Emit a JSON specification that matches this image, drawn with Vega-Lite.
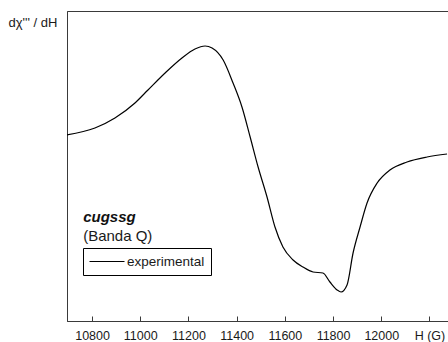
{
  "$schema": "https://vega.github.io/schema/vega-lite/v6.json",
  "width": 388,
  "height": 310,
  "autosize": {"type": "none"},
  "padding": {"left": 67, "top": 11, "right": 0, "bottom": 21},
  "config": {
    "view": {"stroke": "#3a3a3a", "strokeWidth": 1},
    "font": "Liberation Sans",
    "axis": {"grid": false}
  },
  "data": {
    "values": [
      {"H": 10692, "s": 185, "series": "experimental"},
      {"H": 10812, "s": 192, "series": "experimental"},
      {"H": 10895, "s": 202, "series": "experimental"},
      {"H": 10978, "s": 217, "series": "experimental"},
      {"H": 11032, "s": 230, "series": "experimental"},
      {"H": 11103, "s": 247, "series": "experimental"},
      {"H": 11173, "s": 262, "series": "experimental"},
      {"H": 11227, "s": 271, "series": "experimental"},
      {"H": 11269, "s": 274, "series": "experimental"},
      {"H": 11298, "s": 272, "series": "experimental"},
      {"H": 11344, "s": 260, "series": "experimental"},
      {"H": 11385, "s": 237, "series": "experimental"},
      {"H": 11422, "s": 213, "series": "experimental"},
      {"H": 11456, "s": 183, "series": "experimental"},
      {"H": 11489, "s": 153, "series": "experimental"},
      {"H": 11526, "s": 123, "series": "experimental"},
      {"H": 11559, "s": 93, "series": "experimental"},
      {"H": 11592, "s": 73, "series": "experimental"},
      {"H": 11634, "s": 60, "series": "experimental"},
      {"H": 11675, "s": 53, "series": "experimental"},
      {"H": 11717, "s": 48, "series": "experimental"},
      {"H": 11758, "s": 47, "series": "experimental"},
      {"H": 11787, "s": 38, "series": "experimental"},
      {"H": 11817, "s": 30, "series": "experimental"},
      {"H": 11833, "s": 28, "series": "experimental"},
      {"H": 11858, "s": 35, "series": "experimental"},
      {"H": 11883, "s": 67, "series": "experimental"},
      {"H": 11912, "s": 93, "series": "experimental"},
      {"H": 11941, "s": 117, "series": "experimental"},
      {"H": 11983, "s": 137, "series": "experimental"},
      {"H": 12036, "s": 150, "series": "experimental"},
      {"H": 12107, "s": 158, "series": "experimental"},
      {"H": 12190, "s": 163, "series": "experimental"},
      {"H": 12273, "s": 166, "series": "experimental"}
    ]
  },
  "layer": [
    {
      "mark": {"type": "line", "interpolate": "monotone", "strokeWidth": 1.2, "clip": true},
      "encoding": {
        "x": {
          "field": "H", "type": "quantitative",
          "scale": {"domain": [10696, 12306], "nice": false, "zero": false},
          "axis": {
            "title": null,
            "values": [10800, 11000, 11200, 11400, 11600, 11800, 12000, 12200],
            "labelExpr": "datum.value == 12200 ? 'H (G)' : datum.value",
            "tickSize": -5,
            "tickColor": "#3a3a3a",
            "domainColor": "#3a3a3a",
            "labelPadding": 13,
            "labelFontSize": 12.5,
            "labelColor": "#1a1a1a",
            "labelFlush": false
          }
        },
        "y": {
          "field": "s", "type": "quantitative",
          "scale": {"domain": [-1, 309], "nice": false, "zero": false},
          "axis": {
            "title": "dχ''' / dH",
            "titleAngle": 0,
            "titleAlign": "left",
            "titleBaseline": "middle",
            "titleX": -59,
            "titleY": 11,
            "titleFontSize": 13,
            "titleFontWeight": "normal",
            "titleColor": "#1a1a1a",
            "labels": false,
            "ticks": false,
            "domainColor": "#3a3a3a"
          }
        },
        "color": {
          "field": "series", "type": "nominal",
          "scale": {"range": ["#000000"]},
          "legend": {
            "title": null,
            "orient": "none",
            "legendX": 16,
            "legendY": 237,
            "symbolType": "stroke",
            "symbolSize": 1225,
            "symbolStrokeWidth": 1,
            "clipHeight": 15,
            "labelFontSize": 13.5,
            "labelColor": "#1a1a1a",
            "labelOffset": 2,
            "strokeColor": "#000000",
            "fillColor": "#ffffff",
            "padding": 6,
            "cornerRadius": 0
          }
        }
      }
    },
    {
      "data": {"values": [{"label": "cugssg"}]},
      "mark": {"type": "text", "align": "left", "baseline": "middle", "fontSize": 15, "fontWeight": "bold", "fontStyle": "italic", "color": "#111111"},
      "encoding": {
        "x": {"datum": 10763},
        "y": {"datum": 103},
        "text": {"field": "label"}
      }
    },
    {
      "data": {"values": [{"label": "(Banda Q)"}]},
      "mark": {"type": "text", "align": "left", "baseline": "middle", "fontSize": 15, "color": "#1a1a1a"},
      "encoding": {
        "x": {"datum": 10763},
        "y": {"datum": 84},
        "text": {"field": "label"}
      }
    }
  ]
}
